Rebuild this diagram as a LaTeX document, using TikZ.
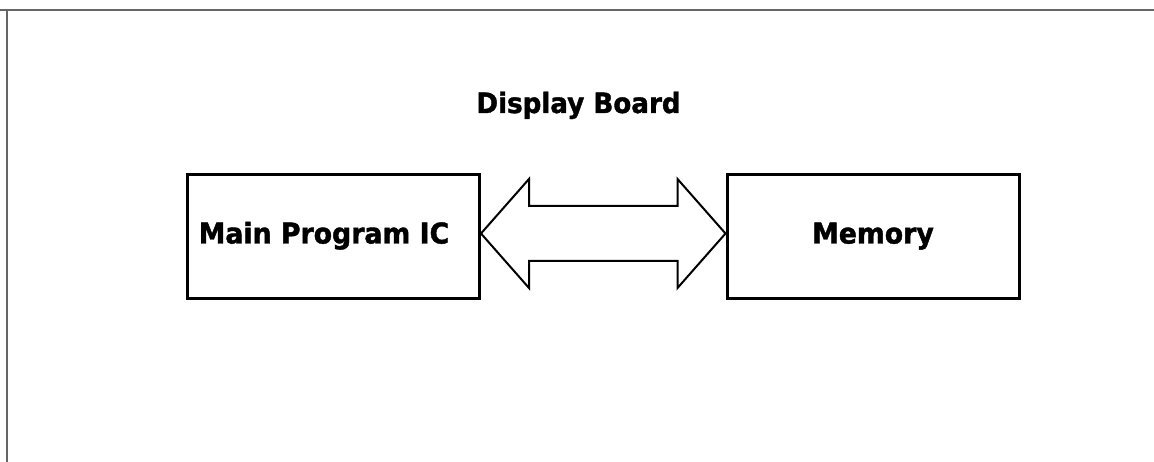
\documentclass[tikz,border=0pt]{standalone}
\usepackage{fontspec}
\setmainfont{DejaVu Sans}
\newfontfamily\heavyfont{DejaVu Sans Bold}[FakeBold=1.4, FakeStretch=0.935]
\usetikzlibrary{calc}
\tikzset{
  blockbox/.style={draw=black, line width=3pt, minimum width=292pt, minimum height=124pt,
    inner sep=0pt, text height=20pt, text depth=6pt,
    font=\heavyfont\fontsize{28.6}{34}\selectfont},
  titletext/.style={inner sep=0pt, anchor=base, font=\heavyfont\fontsize{28}{34}\selectfont},
  busarrow/.style={draw=black, line width=2pt, line join=miter, fill=white},
  frameline/.style={draw=black!60, line width=1.6pt}
}
\begin{document}
\begin{tikzpicture}[x=1pt,y=-1pt]
\useasboundingbox (0,0) rectangle (1154,462);
\fill[white] (0,0) rectangle (1154,462);
% frame (top and left edges)
\coordinate (ftl) at (7,10);
\coordinate (ftr) at (1154,10);
\coordinate (fbl) at (7,462);
\coordinate (fl0) at (0,10);
\draw[frameline] (fl0) -- (ftr);
\draw[frameline] (ftl) -- (fbl);
% title
\node[titletext] (title) at (578.5,113) {Display Board};
% blocks
\node[blockbox] (main) at (333.5,236.5) {Main Program IC\kern19pt};
\node[blockbox] (mem) at (873,236.5) {Memory};
% double arrow between blocks
\coordinate (tl) at ($(main.east)+(0,-3)$);
\coordinate (tr) at ($(mem.west)+(0,-3)$);
\draw[busarrow] (tl) -- ($(tl)+(48,-54.5)$) -- ($(tl)+(48,-27.5)$)
  -- ($(tr)+(-48,-27.5)$) -- ($(tr)+(-48,-54.5)$) -- (tr)
  -- ($(tr)+(-48,54.5)$) -- ($(tr)+(-48,27.5)$)
  -- ($(tl)+(48,27.5)$) -- ($(tl)+(48,54.5)$) -- cycle;
\end{tikzpicture}
\end{document}
